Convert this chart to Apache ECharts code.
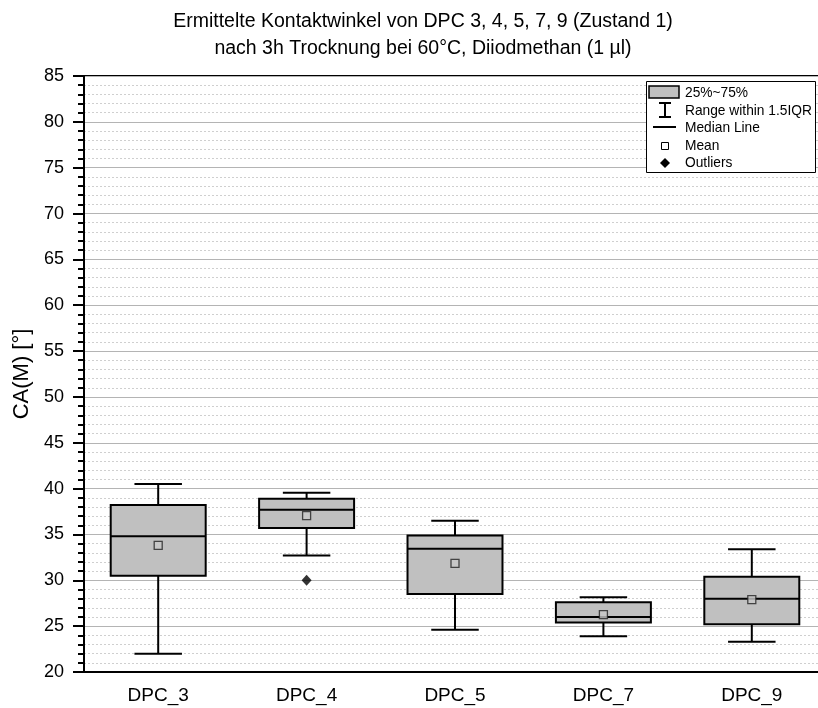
<!DOCTYPE html>
<html>
<head>
<meta charset="utf-8">
<script src="https://cdn.jsdelivr.net/npm/echarts@6/dist/echarts.min.js"></script>
<style>html,body{margin:0;padding:0;background:#fff;overflow:hidden;width:818px;height:708px;}#c{width:830px;height:708px;}</style>
</head>
<body>
<div id="c"></div>
<script>
const categories = ['DPC_3', 'DPC_4', 'DPC_5', 'DPC_7', 'DPC_9'];
const whiskerLow  = [22.0, 32.7, 24.6, 23.9, 23.3];
const q1          = [30.5, 35.7, 28.5, 25.4, 25.2];
const median      = [34.8, 37.7, 33.45, 26.0, 28.0];
const q3          = [38.2, 38.9, 34.9, 27.6, 30.4];
const whiskerHigh = [40.5, 39.55, 36.5, 28.15, 33.4];
const means       = [33.8, 37.05, 31.85, 26.25, 27.9];
const outliers    = [['DPC_4', 30.0]];
const yTicks = { min: 20, max: 85, interval: 5 };
const titleLines = ['Ermittelte Kontaktwinkel von DPC 3, 4, 5, 7, 9 (Zustand 1)', 'nach 3h Trocknung bei 60°C, Diiodmethan (1 µl)'];
const legendLabels = ['25%~75%', 'Range within 1.5IQR', 'Median Line', 'Mean', 'Outliers'];

const FONT = '"Liberation Sans", Arial, sans-serif';
const boxData = categories.map((c, i) => [i, whiskerLow[i], q1[i], median[i], q3[i], whiskerHigh[i]]);

const chart = echarts.init(document.getElementById('c'), null, { renderer: 'canvas' });

const legendGraphics = [
  { type: 'rect', shape: { x: 646.5, y: 81.5, width: 169, height: 91 }, style: { fill: '#fff', stroke: '#000', lineWidth: 1 }, z: 100 },
  { type: 'rect', shape: { x: 649, y: 86, width: 30, height: 12 }, style: { fill: '#c0c0c0', stroke: '#000', lineWidth: 1.5 }, z: 101 },
  { type: 'polyline', shape: { points: [[665, 103], [665, 117]] }, style: { stroke: '#000', lineWidth: 2 }, z: 101 },
  { type: 'polyline', shape: { points: [[659, 103], [671, 103]] }, style: { stroke: '#000', lineWidth: 2 }, z: 101 },
  { type: 'polyline', shape: { points: [[659, 117], [671, 117]] }, style: { stroke: '#000', lineWidth: 2 }, z: 101 },
  { type: 'polyline', shape: { points: [[653, 127], [676, 127]] }, style: { stroke: '#000', lineWidth: 2 }, z: 101 },
  { type: 'rect', shape: { x: 661.5, y: 142.5, width: 7, height: 7 }, style: { fill: '#fff', stroke: '#000', lineWidth: 1 }, z: 101 },
  { type: 'polygon', shape: { points: [[665, 158], [670, 163], [665, 168], [660, 163]] }, style: { fill: '#000' }, z: 101 }
];
const legendY = [93, 111, 128, 146, 163];
legendLabels.forEach((t, i) => {
  legendGraphics.push({ type: 'text', x: 685, y: legendY[i], style: { text: t, font: '13.75px ' + FONT, fill: '#000', verticalAlign: 'middle' }, z: 101 });
});

chart.setOption({
  animation: false,
  backgroundColor: '#fff',
  title: {
    text: titleLines.join('\n'),
    left: 418, top: 3, textAlign: 'center',
    textStyle: { fontFamily: FONT, fontSize: 19.5, fontWeight: 'normal', color: '#000', lineHeight: 27 }
  },
  grid: { left: 84, top: 76, right: 4, bottom: 36, show: true, borderColor: '#000', borderWidth: 2, backgroundColor: 'transparent' },
  xAxis: {
    type: 'category', data: categories, boundaryGap: true,
    axisLine: { lineStyle: { color: '#000', width: 2 } },
    axisTick: { show: false },
    axisLabel: { fontFamily: FONT, fontSize: 19, color: '#000', margin: 14 },
    splitLine: { show: false }
  },
  yAxis: {
    type: 'value', min: yTicks.min, max: yTicks.max, interval: yTicks.interval,
    name: 'CA(M) [°]', nameLocation: 'middle', nameGap: 47,
    nameTextStyle: { fontFamily: FONT, fontSize: 22, color: '#000' },
    axisLine: { show: true, lineStyle: { color: '#000', width: 2 } },
    axisTick: { show: true, inside: false, length: 11, lineStyle: { color: '#000', width: 2 } },
    minorTick: { show: true, splitNumber: 5, length: 6, lineStyle: { color: '#000', width: 2 } },
    axisLabel: { fontFamily: FONT, fontSize: 18, color: '#000', margin: 20 },
    splitLine: { show: true, lineStyle: { color: '#b4b4b4', width: 1 } },
    minorSplitLine: { show: true, lineStyle: { color: '#cfcfcf', width: 1, type: [2, 2] } }
  },
  series: [
    {
      type: 'custom',
      data: boxData,
      encode: { x: 0, y: [1, 2, 3, 4, 5] },
      z: 5,
      renderItem: function (params, api) {
        const x = api.value(0);
        const band = api.size([1, 0])[0];
        const bw = band * 0.64, cw = bw / 2;
        const pLo = api.coord([x, api.value(1)]);
        const pQ1 = api.coord([x, api.value(2)]);
        const pMed = api.coord([x, api.value(3)]);
        const pQ3 = api.coord([x, api.value(4)]);
        const pHi = api.coord([x, api.value(5)]);
        const cx = pQ1[0];
        const ls = { stroke: '#000', lineWidth: 2, fill: null };
        return {
          type: 'group',
          children: [
            { type: 'line', shape: { x1: cx, y1: pHi[1], x2: cx, y2: pQ3[1] }, style: ls },
            { type: 'line', shape: { x1: cx, y1: pQ1[1], x2: cx, y2: pLo[1] }, style: ls },
            { type: 'line', shape: { x1: cx - cw / 2, y1: pHi[1], x2: cx + cw / 2, y2: pHi[1] }, style: ls },
            { type: 'line', shape: { x1: cx - cw / 2, y1: pLo[1], x2: cx + cw / 2, y2: pLo[1] }, style: ls },
            { type: 'rect', shape: { x: cx - bw / 2, y: pQ3[1], width: bw, height: pQ1[1] - pQ3[1] }, style: { fill: '#c0c0c0', stroke: '#000', lineWidth: 2 } },
            { type: 'line', shape: { x1: cx - bw / 2, y1: pMed[1], x2: cx + bw / 2, y2: pMed[1] }, style: ls }
          ]
        };
      }
    },
    {
      type: 'scatter',
      data: categories.map((c, i) => [c, means[i]]),
      symbol: 'rect', symbolSize: 8, z: 6,
      itemStyle: { color: '#c8c8c8', borderColor: '#222', borderWidth: 1.3 }
    },
    {
      type: 'scatter',
      data: outliers,
      symbol: 'diamond', symbolSize: [10, 11], z: 6,
      itemStyle: { color: '#000' }
    }
  ],
  graphic: legendGraphics
});
</script>
</body>
</html>
